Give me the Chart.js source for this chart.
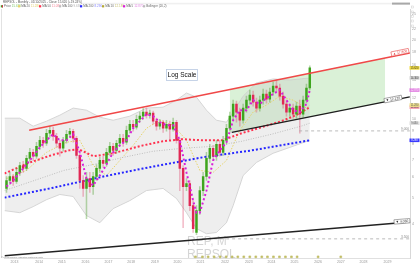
<!DOCTYPE html>
<html>
<head>
<meta charset="utf-8">
<title>REPSOL monthly</title>
<script src="https://cdn.jsdelivr.net/npm/chart.js@4.4.1/dist/chart.umd.min.js"></script>
<style>
  body { margin: 0; background: #ffffff; }
  canvas { display: block; }
</style>
</head>
<body>
<canvas id="repsolChart" width="420" height="265"></canvas>
<script>
// monthly candles (price, log scale)
const opens = [5.44,5.83,6.04,5.78,6.26,6.65,6.48,7.08,7.46,7.21,
  7.86,8.29,8.08,8.82,9.05,8.59,8.08,7.73,8.29,8.74,
  8.97,8.44,7.27,5.83,5.44,5.93,5.53,6.04,6.48,6.95,
  6.77,7.46,7.86,7.59,8.08,8.44,8.15,9.05,9.54,9.30,
  9.97,10.24,10.61,10.33,10.52,9.80,9.38,9.71,9.21,9.54,
  9.13,9.71,8.29,6.48,5.53,5.68,4.68,3.70,4.48,5.34,
  6.04,7.08,7.73,7.21,8.00,7.46,8.29,9.21,10.24,11.38,
  10.61,9.88,10.99,11.78,12.31,11.58,10.99,11.78,12.42,11.89,
  12.65,13.33,13.10,12.20,11.38,10.61,10.99,10.42,11.18,10.42,
  11.78,13.10];
const closes = [5.83,6.04,5.78,6.26,6.65,6.48,7.08,7.46,7.21,7.86,
  8.29,8.08,8.82,9.05,8.59,8.08,7.73,8.29,8.74,8.97,
  8.44,7.27,5.83,5.44,5.93,5.53,6.04,6.48,6.95,6.77,
  7.46,7.86,7.59,8.08,8.44,8.15,9.05,9.54,9.30,9.97,
  10.24,10.61,10.33,10.52,9.80,9.38,9.71,9.21,9.54,9.13,
  9.71,8.29,6.48,5.53,5.68,4.68,3.83,4.48,5.34,6.04,
  7.08,7.73,7.21,8.00,7.46,8.29,9.21,10.24,11.38,10.61,
  9.88,10.99,11.78,12.31,11.58,10.99,11.78,12.42,11.89,12.65,
  13.33,13.10,12.20,11.38,10.61,10.99,10.42,11.18,10.42,11.78,
  13.10,15.62];
const highs = [6.04,6.26,6.15,6.48,6.83,6.89,7.27,7.73,7.66,8.15,
  8.59,8.51,9.13,9.38,9.30,8.82,8.29,8.51,9.05,9.21,
  9.13,8.59,7.40,6.09,6.26,6.26,6.26,6.71,7.14,7.21,
  7.73,8.15,8.08,8.29,8.74,8.74,9.38,9.88,9.88,10.33,
  10.61,10.99,10.99,10.79,10.70,10.06,9.97,9.88,9.88,9.80,
  10.06,9.88,8.44,6.65,5.93,5.83,4.89,4.68,5.53,6.26,
  7.46,8.00,7.93,8.29,8.29,8.59,9.54,10.61,11.78,11.68,
  10.99,11.38,12.20,12.87,12.76,11.99,12.20,12.99,12.87,13.10,
  13.81,14.05,13.57,12.65,11.78,11.38,11.38,11.58,11.78,12.20,
  13.57,15.89];
const lows = [5.25,5.63,5.58,5.68,6.09,6.26,6.37,6.89,6.95,7.08,
  7.66,7.79,7.93,8.51,8.29,7.79,7.21,7.53,8.08,8.51,
  8.15,7.08,5.44,5.07,4.18,5.25,5.16,5.83,6.26,6.54,
  6.59,7.27,7.27,7.40,7.86,7.86,8.00,8.82,8.97,9.13,
  9.71,9.97,10.06,10.06,9.55,9.05,9.13,8.89,8.97,8.29,
  8.97,8.08,5.34,3.86,5.34,4.48,3.70,3.63,4.33,5.11,
  5.83,6.83,6.95,6.95,7.21,7.27,8.00,8.97,9.88,9.71,
  9.38,9.63,10.61,11.38,11.18,10.61,10.70,11.38,11.48,11.58,
  12.31,12.65,11.78,10.99,10.24,10.24,10.06,10.06,8.82,10.15,
  11.48,12.87];

// moving averages (candle index, value)
const magIdx = [0,2,4,6,8,10,12,14,16,18,20,22,24,26,28,30,32,34,36,38,40,42,44,46,48,50,52,54,56,57,58,60,62,64,66,68,70,72,74,76,78,80,82,84,86,88,90,91];
const magVal = [5.53,5.83,6.26,6.71,7.21,7.79,8.29,8.74,8.29,8.29,8.74,7.46,5.93,5.58,6.09,6.71,7.46,7.93,8.29,9.21,9.80,10.42,10.24,9.71,9.46,9.46,8.29,6.26,4.89,4.40,4.40,5.34,6.95,7.59,8.15,9.88,10.79,10.79,11.78,11.38,11.99,12.42,12.87,11.78,10.79,10.61,11.38,12.87];
const yelIdx = [0,6,12,18,22,26,30,34,38,42,46,50,54,58,62,66,70,74,78,82,86,90,91];
const yelVal = [5.93,6.37,7.46,8.15,8.29,6.65,6.09,6.95,7.93,9.21,9.88,9.46,8.29,6.37,6.26,6.95,9.05,10.61,11.28,12.20,11.78,10.99,11.28];
const redIdx = [-0.6,6.2,13.4,18.7,21.7,26.1,32,41,46.9,52.8,58.8,64.7,70.6,76.6,82.5,86.9,91];
const redVal = [6.20,6.77,7.27,7.59,7.66,7.21,7.40,7.93,8.22,8.37,8.29,8.29,8.82,9.30,9.80,10.33,11.08];
const grayIdx = [-0.6,8.3,17.2,26.1,35,43.9,52.8,61.7,70.6,79.5,88.4,91];
const grayVal = [5.34,5.83,6.37,6.71,7.14,7.53,7.73,7.86,8.22,8.74,9.38,9.63];
const blueIdx = [-0.6,14.2,29.1,41,58.8,73.6,91];
const blueVal = [5.02,5.48,6.04,6.48,7.14,7.59,8.29];

// bollinger bands
const bbIdx = [-0.6,4,8,12,16,20,24,28,32,37,42,47,51,54,57,60,63,66,68,71,75,80,85,91];
const bbUpper = [10.06,10.06,9.38,9.80,10.33,10.99,10.79,10.15,9.88,10.24,10.99,11.08,11.78,12.54,12.09,10.79,9.88,9.71,10.61,12.20,13.69,14.18,14.05,14.30];
const bbLower = [4.48,4.40,4.64,4.93,5.16,5.07,4.29,4.03,4.56,4.89,5.34,5.44,4.98,4.40,3.83,3.66,3.70,4.03,4.68,6.09,6.83,7.40,7.79,8.29];

// drawn trend lines and levels
const resistIdx = [6.8, 121]; const resistVal = [9.05, 17.8];
const supportIdx = [67.6, 121]; const supportVal = [8.89, 12.12];
const lowLineIdx = [-0.6, 121]; const lowLineVal = [3.02, 4.06];
const channelIdx = [67, 113.6];
const channelTop = [12.94, 17.05];
const channelBot = [8.86, 11.59];
const levelHiIdx = [87.8, 121]; const levelHi = 9.0;
const levelLoIdx = [58.7, 121]; const levelLo = 3.5;

// dividend markers
const eventIdx = [56.7,58.8,60.5,62.3,64.1,65.9,67.7,69.4,71.2,73,74.8,76.6,78.3,80.1,81.9,83.7,85.5,87.2,93.5,100.3];
const eventLevel = 2.99;

// axes
const yearTickIdx = [2.4,9.8,16.6,23.7,30.6,37.4,44.5,51.3,58.2,65.6,72.7,79.5,86.4,93.5,100.3,107.1,114.3];
const yearLabels = ['2013','2014','2015','2016','2017','2018','2019','2020','2021','2022','2023','2024','2025','2026','2027','2028','2029'];
const priceTicks = [4,5,6,7,8,9,10,12,14,16,18,20,22,25];

const FONT = '"Liberation Sans", Arial, sans-serif';
const GREEN = 'rgb(62,165,30)';
const RED = 'rgb(225,40,85)';

function pts(xs, ys) {
  return xs.map((x, i) => ({ x: x, y: Array.isArray(ys) ? ys[i] : ys }));
}
function lineDs(data, color, width, dash, order, extra) {
  return Object.assign({
    type: 'line', data: data, borderColor: color, borderWidth: width,
    borderDash: dash, pointRadius: 0, fill: false, tension: 0, order: order
  }, extra || {});
}

const candleIdx = opens.map((_, i) => i);
const isUp = candleIdx.map(i => closes[i] >= opens[i]);

function tag(ctx, cx, cy, angle, text, textColor, borderColor) {
  ctx.save();
  ctx.translate(cx, cy);
  ctx.rotate(angle);
  ctx.font = '3.4px ' + FONT;
  const w = ctx.measureText(text).width + 3;
  ctx.fillStyle = '#ffffff';
  ctx.fillRect(-w / 2, -2.2, w, 4.4);
  ctx.strokeStyle = borderColor;
  ctx.lineWidth = 0.6;
  ctx.strokeRect(-w / 2, -2.2, w, 4.4);
  ctx.fillStyle = textColor;
  ctx.textAlign = 'center';
  ctx.textBaseline = 'middle';
  ctx.fillText(text, 0, 0.2);
  ctx.restore();
}

function alongLine(chart, dsIndex, px) {
  const p = chart.getDatasetMeta(dsIndex).data;
  const a = p[0], b = p[p.length - 1];
  const t = (px - a.x) / (b.x - a.x);
  return { x: px, y: a.y + t * (b.y - a.y), angle: Math.atan2(b.y - a.y, b.x - a.x) };
}

const decorations = {
  id: 'decorations',
  beforeDatasetsDraw(chart) {
    const ctx = chart.ctx;
    ctx.save();
    // watermark
    ctx.fillStyle = 'rgba(185,185,185,0.6)';
    ctx.font = '12px ' + FONT;
    ctx.fillText('REP, M', 187, 245);
    ctx.fillText('REPSOL', 187, 258);
    // frame
    ctx.strokeStyle = '#e2e2e2';
    ctx.lineWidth = 1;
    ctx.beginPath();
    ctx.moveTo(1.5, chart.chartArea.top);
    ctx.lineTo(1.5, chart.chartArea.bottom);
    ctx.stroke();
    ctx.restore();
  },
  afterDraw(chart) {
    const ctx = chart.ctx;
    const y = chart.scales.y;
    ctx.save();

    // labels on drawn lines
    let p = alongLine(chart, 11, 400);
    tag(ctx, p.x, p.y - 2.6, p.angle, '\u25B2 ' + resistVal[1].toFixed(3), '#e03838', '#e85050');
    p = alongLine(chart, 12, 393);
    tag(ctx, p.x, p.y - 1.2, p.angle, '\u25BC ' + supportVal[1].toFixed(3), '#333', '#777');
    p = alongLine(chart, 13, 402);
    tag(ctx, p.x, p.y - 1.2, p.angle, '\u25BC ' + lowLineVal[1].toFixed(3), '#333', '#777');

    ctx.font = '3.2px ' + FONT;
    ctx.fillStyle = '#888';
    ctx.textAlign = 'right';
    ctx.fillText(levelHi.toFixed(3), 409, y.getPixelForValue(levelHi) - 0.8);
    ctx.fillText(levelLo.toFixed(3), 409, y.getPixelForValue(levelLo) - 0.8);

    // Log Scale box
    ctx.fillStyle = '#ffffff';
    ctx.fillRect(166.5, 69.5, 31, 11);
    ctx.strokeStyle = '#b9c9e2';
    ctx.lineWidth = 0.8;
    ctx.strokeRect(166.5, 69.5, 31, 11);
    ctx.fillStyle = '#111';
    ctx.font = '6.5px ' + FONT;
    ctx.textAlign = 'center';
    ctx.textBaseline = 'middle';
    ctx.fillText('Log Scale', 182, 75.3);

    // value badges on the price axis
    const badges = [
      { v: blueVal[blueVal.length - 1], bg: '#3a3aff', fg: '#fff' },
      { v: grayVal[grayVal.length - 1], bg: '#dddddd', fg: '#555' },
      { v: redVal[redVal.length - 1], bg: '#f7a3b3', fg: '#333' },
      { v: yelVal[yelVal.length - 1], bg: '#eee08a', fg: '#555' },
      { v: magVal[magVal.length - 1], bg: '#e07ae0', fg: '#fff' },
      { v: bbUpper[bbUpper.length - 1], bg: '#d6d6d6', fg: '#333' },
      { v: closes[closes.length - 1], bg: '#f2dc3c', fg: '#333' }
    ];
    ctx.font = '2.6px ' + FONT;
    badges.forEach(b => {
      const py = y.getPixelForValue(b.v);
      ctx.fillStyle = b.bg;
      ctx.fillRect(409.5, py - 1.8, 10, 3.6);
      ctx.fillStyle = b.fg;
      ctx.fillText(b.v.toFixed(3), 414.5, py + 0.1);
    });

    // header: title + legend
    ctx.textAlign = 'left';
    ctx.textBaseline = 'middle';
    ctx.fillStyle = '#f0f0f0';
    ctx.fillRect(80, 2.8, 330, 1.6);
    ctx.fillStyle = '#a8a8a8';
    ctx.fillRect(392, 2.6, 18, 2);
    ctx.font = '3px ' + FONT;
    ctx.fillStyle = '#555';
    ctx.fillText('REPSOL - Monthly - 01/10/2025 - Close: 15.620 (+19.24%)', 3, 2.4);

    const legend = [
      { x: 0.8, c: GREEN, c2: RED, t: 'Price', v: '15.620', vc: '#7ec86a' },
      { x: 18, c: '#e6d36a', t: 'MA 20', v: '11.280', vc: '#e0d070' },
      { x: 39, c: '#ff3350', t: 'MA 50', v: '11.080', vc: '#f58a9a' },
      { x: 59, c: '#bdbdbd', t: 'MA 100', v: '9.630', vc: '#b0b0b0' },
      { x: 80, c: '#2626ff', t: 'MA 200', v: '8.290', vc: '#8080ff' },
      { x: 102, c: '#b5a830', t: 'MA 10', v: '12.180', vc: '#c8c070' },
      { x: 123, c: '#d91ed9', t: 'MA 5', v: '12.870', vc: '#e080e0' },
      { x: 143, c: '#bbbbbb', t: 'Bollinger (20,2)', v: '', vc: '#bbb' }
    ];
    legend.forEach(l => {
      ctx.fillStyle = l.c;
      ctx.fillRect(l.x, 5.2, 2.2, 2.2);
      if (l.c2) { ctx.fillStyle = l.c2; ctx.fillRect(l.x + 1.1, 5.2, 1.1, 2.2); }
      ctx.fillStyle = '#666';
      ctx.fillText(l.t, l.x + 3.2, 6.4);
      const w = ctx.measureText(l.t).width;
      ctx.fillStyle = l.vc;
      ctx.fillText(l.v, l.x + 4.2 + w, 6.4);
    });

    // side toolbar icons
    ctx.strokeStyle = '#d0d0d0';
    ctx.lineWidth = 0.5;
    [7, 12, 16.5, 21, 26].forEach(iy => ctx.strokeRect(411.5, iy - 1, 2, 2));

    // footnote
    ctx.fillStyle = '#888';
    ctx.font = '2.4px ' + FONT;
    ctx.fillText('\u2611 ProRealTime: adjusted historical data', 0.5, 257.2);
    ctx.restore();
  }
};

new Chart(document.getElementById('repsolChart'), {
  type: 'bar',
  data: {
    datasets: [
      lineDs(pts(channelIdx, channelTop), 'rgba(0,0,0,0)', 0, [], 20),
      lineDs(pts(channelIdx, channelBot), 'rgba(0,0,0,0)', 0, [], 20,
        { fill: '-1', backgroundColor: 'rgba(150,215,140,0.35)' }),
      lineDs(pts(bbIdx, bbUpper), '#cdcdcd', 0.8, [], 18),
      lineDs(pts(bbIdx, bbLower), '#cdcdcd', 0.8, [], 18,
        { fill: '-1', backgroundColor: 'rgba(200,200,200,0.3)' }),
      lineDs(pts(grayIdx, grayVal), '#bdbdbd', 1, [1, 1.5], 15),
      lineDs(pts(yelIdx, yelVal), '#e6d36a', 1, [1.5, 1.5], 15),
      lineDs(pts(redIdx, redVal), '#ff3350', 2, [2, 2], 14),
      lineDs(pts(blueIdx, blueVal), '#2626ff', 2, [2, 2], 14),
      {
        type: 'bar', order: 12, grouped: false, barThickness: 0.9,
        data: candleIdx.map(i => ({ x: i, y: [lows[i], highs[i]] })),
        backgroundColor: isUp.map(u => u ? 'rgba(80,160,50,0.4)' : 'rgba(220,60,100,0.35)')
      },
      {
        type: 'bar', order: 11, grouped: false, barThickness: 1.8,
        data: candleIdx.map(i => ({ x: i, y: [opens[i], closes[i]] })),
        backgroundColor: isUp.map(u => u ? GREEN : RED)
      },
      lineDs(pts(magIdx, magVal), '#d91ed9', 2, [2, 2.5], 8),
      lineDs(pts(resistIdx, resistVal), '#f04848', 1.5, [], 6),
      lineDs(pts(supportIdx, supportVal), '#1e1e1e', 1.3, [], 6),
      lineDs(pts(lowLineIdx, lowLineVal), '#222222', 1.5, [], 6),
      lineDs(pts(levelHiIdx, levelHi), '#aaaaaa', 0.8, [3, 3], 6),
      lineDs(pts(levelLoIdx, levelLo), '#aaaaaa', 0.8, [3, 3], 6),
      {
        type: 'line', order: 4, showLine: false, clip: false,
        data: pts(eventIdx, eventLevel),
        pointStyle: 'rect', pointRadius: 1.3,
        pointBackgroundColor: '#c8c46a', pointBorderColor: '#b8b45a', pointBorderWidth: 0.5
      }
    ]
  },
  options: {
    responsive: false,
    devicePixelRatio: 1,
    animation: false,
    events: [],
    layout: { padding: { top: 9, left: 0, right: 0, bottom: 0 } },
    plugins: { legend: { display: false }, tooltip: { enabled: false } },
    scales: {
      x: {
        type: 'linear', min: -0.6, max: 121.07, offset: false,
        grid: { display: false, drawTicks: false },
        border: { color: '#e0e0e0' },
        afterFit: s => { s.height = 7; },
        afterBuildTicks: s => { s.ticks = yearTickIdx.map(v => ({ value: v })); },
        ticks: {
          autoSkip: false, maxRotation: 0, padding: 2, color: '#999',
          font: { size: 3.5, family: FONT },
          callback: (v, i) => yearLabels[i]
        }
      },
      y: {
        type: 'logarithmic', position: 'right', min: 2.96, max: 26.15,
        grid: { display: false, drawTicks: false },
        border: { color: '#d8d8d8' },
        afterFit: s => { s.width = 10; },
        afterBuildTicks: s => { s.ticks = priceTicks.map(v => ({ value: v })); },
        ticks: {
          autoSkip: false, padding: 2, color: '#999',
          font: { size: 3.5, family: FONT },
          callback: v => String(v)
        }
      }
    }
  },
  plugins: [decorations]
});
</script>
</body>
</html>
